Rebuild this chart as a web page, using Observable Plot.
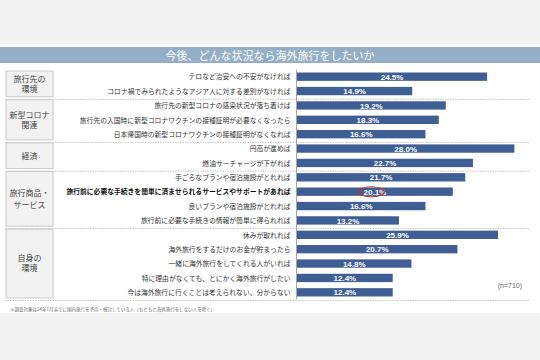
<!DOCTYPE html>
<html><head><meta charset="utf-8">
<script src="https://cdn.jsdelivr.net/npm/d3@7"></script>
<script src="https://cdn.jsdelivr.net/npm/@observablehq/plot@0.6"></script>
<style>
html,body{margin:0;padding:0;}
body{width:540px;height:360px;background:#f2f2f2;position:relative;overflow:hidden;font-family:"Liberation Sans","Noto Sans CJK JP",sans-serif;}
#panel{position:absolute;left:0;top:44px;width:540px;height:269px;background:#fff;}
#title{position:absolute;left:0;top:47px;width:540px;height:16px;background:#94afc5;color:#fff;font-size:11px;line-height:16px;text-align:center;font-family:"Noto Sans CJK JP",sans-serif;}
#chart{position:absolute;left:0;top:62px;}
#note{position:absolute;left:10px;top:306px;font-size:4.5px;color:#666;font-family:"Noto Sans CJK JP",sans-serif;white-space:nowrap;}
#n{position:absolute;right:18px;top:282px;font-size:7px;color:#666;}
</style></head>
<body>
<div id="panel"></div>
<div id="title">今後、どんな状況なら海外旅行をしたいか</div>
<div id="chart"></div>
<div id="n">(n=710)</div>
<div id="note">＊調査対象は24年1月までに国内旅行を予定・検討している人（もともと海外旅行をしない人を除く）</div>
<script>
const groups = ["旅行先の\n環境", "新型コロナ\n関連", "経済", "旅行商品・\nサービス", "自身の\n環境"];
const groupSizes = [2, 3, 2, 4, 5];
const labels = [
  "テロなど治安への不安がなければ",
  "コロナ禍でみられたようなアジア人に対する差別がなければ",
  "旅行先の新型コロナの感染状況が落ち着けば",
  "旅行先の入国時に新型コロナワクチンの接種証明が必要なくなったら",
  "日本帰国時の新型コロナワクチンの接種証明がなくなれば",
  "円高が進めば",
  "燃油サーチャージが下がれば",
  "手ごろなプランや宿泊施設がとれれば",
  "旅行前に必要な手続きを簡単に済ませられるサービスやサポートがあれば",
  "良いプランや宿泊施設がとれれば",
  "旅行前に必要な手続きの情報が簡単に得られれば",
  "休みが取れれば",
  "海外旅行をするだけのお金が貯まったら",
  "一緒に海外旅行をしてくれる人がいれば",
  "特に理由がなくても、とにかく海外旅行がしたい",
  "今は海外旅行に行くことは考えられない、分からない"
];
const values = [24.5, 14.9, 19.2, 18.3, 16.6, 28.0, 22.7, 21.7, 20.1, 16.6, 13.2, 25.9, 20.7, 14.8, 12.4, 12.4];
const highlighted = "旅行前に必要な手続きを簡単に済ませられるサービスやサポートがあれば";

(function () {
const rows = labels.map((label, i) => ({label, value: values[i], bold: label === highlighted}));

const H = 242, yTop = 7.5, yBottom = 237.5, mL = 296, mR = 10;
const yOpts = {domain: labels, range: [yTop, yBottom], paddingInner: 0.42, paddingOuter: 0.21, round: false, axis: null};

const plot = Plot.plot({
  width: 540, height: H, marginTop: yTop, marginBottom: H - yBottom, marginLeft: mL, marginRight: mR,
  style: {background: "transparent", fontFamily: "'Liberation Sans','Noto Sans CJK JP',sans-serif", overflow: "visible"},
  x: {domain: [0, 30], axis: null},
  y: yOpts,
  marks: [
    Plot.barX(rows, {x: "value", y: "label", fill: "#3f5e94"}),
    Plot.ruleX([0], {stroke: "#a6a6a6"}),
    Plot.text(rows, {x: d => d.value / 2, y: "label", text: d => d.value.toFixed(1) + "%", fill: "#fff", fontWeight: "bold", fontSize: 8}),
    Plot.text(rows.filter(d => !d.bold), {x: 0, y: "label", text: "label", textAnchor: "end", dx: -6, fontSize: 6.8, fill: "#333", fontFamily: "'Noto Sans CJK JP',sans-serif"}),
    Plot.text(rows.filter(d => d.bold), {x: 0, y: "label", text: "label", textAnchor: "end", dx: -6, fontSize: 6.8, fontWeight: "bold", fill: "#111", fontFamily: "'Noto Sans CJK JP',sans-serif"})
  ]
});
document.getElementById("chart").appendChild(plot);

const ys = d3.scaleBand().domain(labels).range([yTop, yBottom]).paddingInner(0.42).paddingOuter(0.21);
const xs = d3.scaleLinear().domain([0, 30]).range([mL, 540 - mR]);
const step = ys.step(), bw = ys.bandwidth(), gap = (step - bw) / 2;
const svg = d3.select(plot);
const deco = svg.insert("g", ":first-child");
let idx = 0;
groups.forEach((g, gi) => {
  const first = labels[idx], last = labels[idx + groupSizes[gi] - 1];
  idx += groupSizes[gi];
  const y0 = ys(first) - gap, y1 = ys(last) + bw + gap;
  deco.append("line").attr("x1", 5).attr("x2", 530).attr("y1", y1 + 1).attr("y2", y1 + 1)
    .attr("stroke", "#c4c4c4").attr("stroke-dasharray", "1.5,1");
  deco.append("rect").attr("x", 6).attr("y", y0 + 1.5).attr("width", 47).attr("height", y1 - y0 - 3)
    .attr("fill", "#f2f2f2").attr("stroke", "#bfbfbf").attr("stroke-width", 0.8);
  const lines = g.split("\n");
  const lh = groupSizes[gi] >= 4 && gi === 3 ? 12 : 10;
  const t = deco.append("text").attr("x", 29.5).attr("text-anchor", "middle")
    .attr("font-size", 8).attr("fill", "#444").attr("font-family", "'Noto Sans CJK JP',sans-serif");
  const cy = (y0 + y1) / 2;
  lines.forEach((ln, li) => {
    t.append("tspan").attr("x", 29.5).attr("y", cy + (li - (lines.length - 1) / 2) * lh).attr("dy", "0.35em").text(ln);
  });
});
svg.append("ellipse").attr("cx", xs(values[labels.indexOf(highlighted)] / 2) - 3).attr("cy", ys(highlighted) + bw / 2)
  .attr("rx", 13).attr("ry", 5).attr("fill", "none").attr("stroke", "#c0392b").attr("stroke-width", 1.1);
})();
</script>
</body></html>
